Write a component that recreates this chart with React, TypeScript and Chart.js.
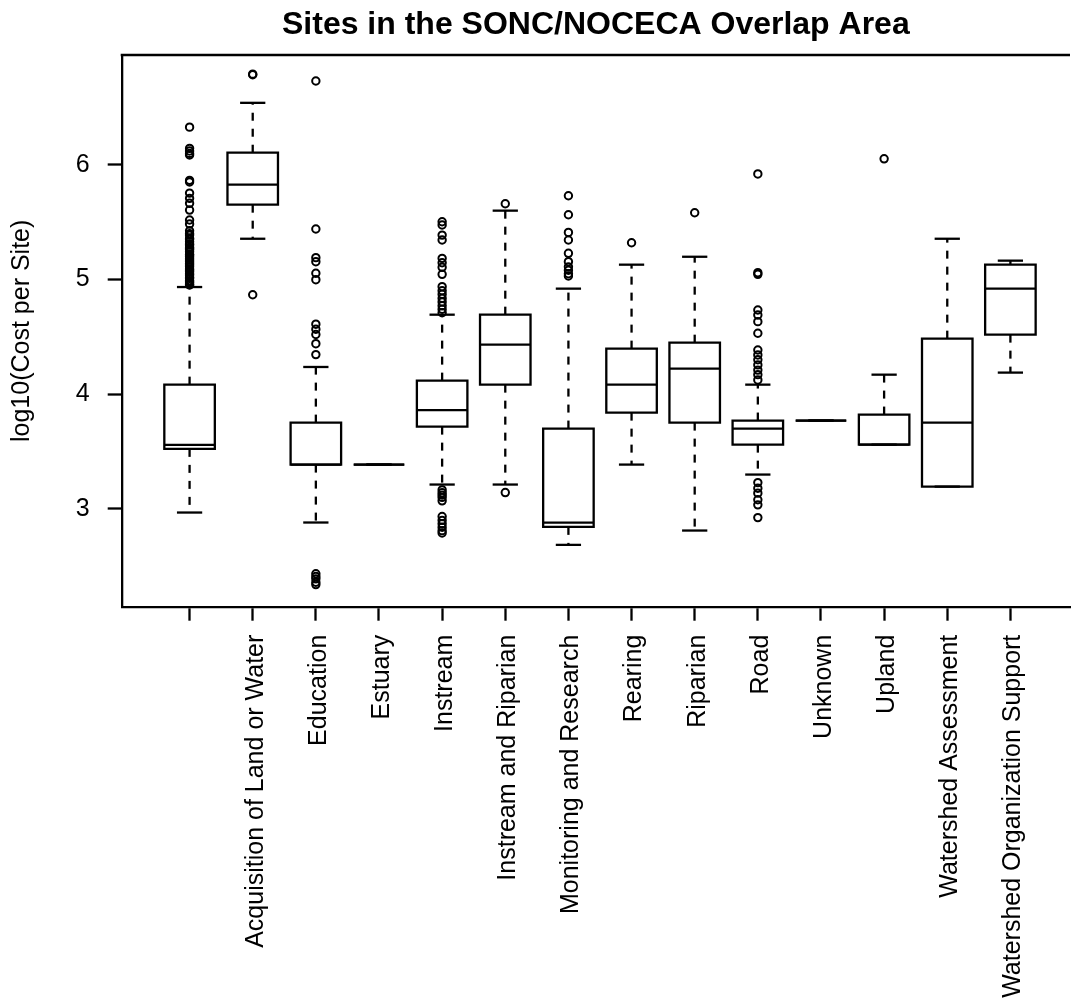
import { useEffect, useRef } from "react";
import { Chart, registerables } from "chart.js";

Chart.register(...registerables);

// Project categories (the first group has no recorded category name)
const categories = [
  "",
  "Acquisition of Land or Water",
  "Education",
  "Estuary",
  "Instream",
  "Instream and Riparian",
  "Monitoring and Research",
  "Rearing",
  "Riparian",
  "Road",
  "Unknown",
  "Upland",
  "Watershed Assessment",
  "Watershed Organization Support",
];

// Five-number summaries of log10(cost per site)
const whiskerLow = [2.968, 5.355, 2.881, 3.386, 3.212, 3.212, 2.686, 3.386, 2.811, 3.299, 3.77, 3.56, 3.194, 4.188];
const lowerQuartile = [3.523, 5.652, 3.386, 3.386, 3.717, 4.083, 2.843, 3.839, 3.752, 3.56, 3.77, 3.56, 3.194, 4.519];
const medians = [3.558, 5.826, 3.386, 3.386, 3.86, 4.432, 2.88, 4.083, 4.223, 3.7, 3.77, 3.56, 3.752, 4.92];
const upperQuartile = [4.083, 6.105, 3.752, 3.386, 4.118, 4.693, 3.7, 4.397, 4.449, 3.77, 3.77, 3.822, 4.484, 5.129];
const whiskerHigh = [4.934, 6.54, 4.237, 3.386, 4.693, 5.6, 4.92, 5.129, 5.198, 4.083, 3.77, 4.17, 5.355, 5.164];

// Points beyond the whiskers, per category
const outliers: number[][] = [
  [
    6.328, 6.143, 6.12, 6.099, 6.085, 5.864, 5.85, 5.753, 5.707, 5.664, 5.605, 5.518, 5.483, 5.425,
    5.4, 5.387, 5.359, 5.35, 5.329, 5.31, 5.3, 5.28, 5.271, 5.26, 5.242, 5.22, 5.213, 5.2, 5.184,
    5.17, 5.155, 5.14, 5.126, 5.11, 5.091, 5.08, 5.068, 5.05, 5.039, 5.02, 5.01, 4.99, 4.981, 4.97,
    4.955, 4.952,
  ],
  [6.79, 6.785, 4.867],
  [6.73, 5.44, 5.19, 5.155, 5.054, 4.998, 4.61, 4.566, 4.52, 4.44, 4.345, 2.434, 2.41, 2.39, 2.36, 2.34],
  [],
  [
    5.503, 5.475, 5.387, 5.344, 5.184, 5.146, 5.106, 5.045, 4.937, 4.902, 4.871, 4.836, 4.804,
    4.771, 4.74, 4.71, 3.165, 3.14, 3.12, 3.1, 3.07, 2.933, 2.9, 2.87, 2.84, 2.81, 2.79,
  ],
  [5.66, 3.142],
  [5.73, 5.564, 5.41, 5.344, 5.228, 5.155, 5.11, 5.08, 5.05, 5.03],
  [5.32],
  [5.582],
  [
    5.92, 5.059, 5.045, 4.734, 4.69, 4.632, 4.531, 4.385, 4.342, 4.3, 4.255, 4.21, 4.17, 4.124,
    3.229, 3.18, 3.137, 3.079, 3.035, 2.924,
  ],
  [],
  [6.052],
  [],
  [],
];

const yTicks = [3, 4, 5, 6];

const FONT = "'Liberation Sans', Arial, Helvetica, sans-serif";
const BOX_HALF = 0.4;
const CAP_HALF = 0.2;
const LINE_W = 2.3;

// Draws the boxes, dashed whiskers, staples and the top frame line
const boxPlotPlugin = {
  id: "boxPlot",
  beforeDatasetsDraw(chart: any) {
    const { ctx, chartArea } = chart;
    const x = chart.scales.x;
    const y = chart.scales.y;
    ctx.save();
    ctx.strokeStyle = "#000";
    ctx.lineWidth = LINE_W;
    ctx.lineCap = "butt";

    const line = (x1: number, y1: number, x2: number, y2: number) => {
      ctx.beginPath();
      ctx.moveTo(x1, y1);
      ctx.lineTo(x2, y2);
      ctx.stroke();
    };

    // top edge of the plot frame
    line(chartArea.left - 1, chartArea.top, chartArea.right, chartArea.top);

    categories.forEach((_, i) => {
      const cx = x.getPixelForValue(i);
      const bl = x.getPixelForValue(i - BOX_HALF);
      const br = x.getPixelForValue(i + BOX_HALF);
      const sl = x.getPixelForValue(i - CAP_HALF);
      const sr = x.getPixelForValue(i + CAP_HALF);
      const yLo = y.getPixelForValue(whiskerLow[i]);
      const yQ1 = y.getPixelForValue(lowerQuartile[i]);
      const yMed = y.getPixelForValue(medians[i]);
      const yQ3 = y.getPixelForValue(upperQuartile[i]);
      const yHi = y.getPixelForValue(whiskerHigh[i]);

      ctx.setLineDash([8, 8]);
      if (yHi < yQ3) line(cx, yQ3, cx, yHi);
      if (yLo > yQ1) line(cx, yQ1, cx, yLo);
      ctx.setLineDash([]);

      line(sl, yHi, sr, yHi);
      line(sl, yLo, sr, yLo);

      ctx.beginPath();
      ctx.rect(bl, yQ3, br - bl, yQ1 - yQ3);
      ctx.stroke();
      line(bl, yMed, br, yMed);
    });
    ctx.restore();
  },
};

export default function App() {
  const canvasRef = useRef<HTMLCanvasElement | null>(null);

  useEffect(() => {
    const canvas = canvasRef.current;
    if (!canvas) return;

    const points = outliers.flatMap((vals, i) => vals.map((v) => ({ x: i, y: v })));

    const chart = new Chart(canvas, {
      type: "scatter",
      data: {
        datasets: [
          {
            label: "outliers",
            data: points,
            pointStyle: "circle",
            pointRadius: 3.7,
            pointBorderWidth: 2,
            pointBackgroundColor: "rgba(0,0,0,0)",
            pointBorderColor: "#000",
          },
        ],
      },
      options: {
        animation: false,
        responsive: false,
        devicePixelRatio: 1,
        layout: { padding: { left: 0, right: 0, top: 0, bottom: 0 } },
        plugins: {
          legend: { display: false },
          tooltip: { enabled: false },
          title: {
            display: true,
            text: "Sites in the SONC/NOCECA Overlap Area",
            color: "#000",
            fullSize: false,
            font: { family: FONT, size: 32, weight: "bold" },
            padding: { top: 5.7, bottom: 10.9 },
          },
        },
        scales: {
          x: {
            type: "linear",
            min: -1.075,
            max: 13.944,
            afterBuildTicks: (axis: any) => {
              axis.ticks = categories.map((_, i) => ({ value: i }));
            },
            afterFit: (axis: any) => {
              axis.height = 396.3;
            },
            ticks: {
              autoSkip: false,
              minRotation: 90,
              maxRotation: 90,
              padding: 14,
              labelOffset: 3,
              color: "#000",
              font: { family: FONT, size: 25 },
              callback: (v: any) => categories[v as number] ?? "",
            },
            grid: {
              drawOnChartArea: false,
              drawTicks: true,
              tickLength: 14,
              tickWidth: LINE_W,
              tickColor: "#000",
            },
            border: { display: true, color: "#000", width: LINE_W },
          },
          y: {
            type: "linear",
            min: 2.147,
            max: 6.957,
            afterBuildTicks: (axis: any) => {
              axis.ticks = yTicks.map((v) => ({ value: v }));
            },
            afterFit: (axis: any) => {
              axis.width = 121.7;
            },
            ticks: {
              padding: 18,
              color: "#000",
              font: { family: FONT, size: 25 },
              callback: (v: any) => String(v),
            },
            grid: {
              drawOnChartArea: false,
              drawTicks: true,
              tickLength: 14,
              tickWidth: LINE_W,
              tickColor: "#000",
            },
            border: { display: true, color: "#000", width: LINE_W },
            title: {
              display: true,
              text: "log10(Cost per Site)",
              color: "#000",
              font: { family: FONT, size: 25 },
              padding: { top: 7, bottom: 0 },
            },
          },
        },
      },
      plugins: [boxPlotPlugin],
    });

    return () => chart.destroy();
  }, []);

  return (
    <canvas
      ref={canvasRef}
      width={1076}
      height={1003}
      style={{ position: "absolute", left: 0, top: 0, display: "block", background: "#fff" }}
    />
  );
}
